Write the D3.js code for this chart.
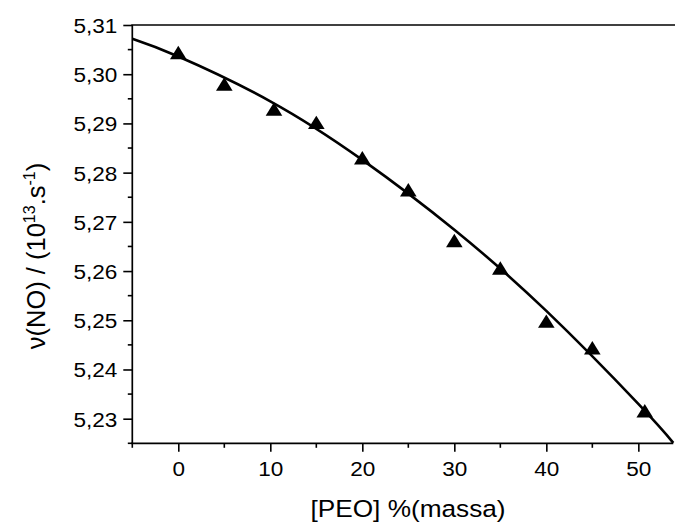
<!DOCTYPE html>
<html>
<head>
<meta charset="utf-8">
<script src="https://cdn.jsdelivr.net/npm/d3@7"></script>
<style>
  html, body { margin: 0; padding: 0; background: #fff; }
  svg { display: block; }
  text { font-family: "Liberation Sans", Arial, sans-serif; fill: #000; }
</style>
</head>
<body>
<svg id="chart" width="675" height="522"></svg>
<script>
// ---- data ----
const peo = [0, 5, 10.4, 15, 20, 25, 30, 35, 40, 45, 50.7];
const nu  = [5.3044, 5.2980, 5.2929, 5.2902, 5.2830, 5.2765, 5.2662, 5.2606, 5.2498, 5.2444, 5.2316];
// fitted curve, sampled along the drawn line
const fitX = [-5, 0, 10, 20, 30, 40, 50, 53.8];
const fitY = [5.3072, 5.3036, 5.2945, 5.2826, 5.2684, 5.2519, 5.2330, 5.2251];
const xMajor = [0, 10, 20, 30, 40, 50];
const xMinor = [-5, 5, 15, 25, 35, 45];
const yMajor = [5.23, 5.24, 5.25, 5.26, 5.27, 5.28, 5.29, 5.30, 5.31];
const yMinor = [5.225, 5.235, 5.245, 5.255, 5.265, 5.275, 5.285, 5.295, 5.305];

const svg = d3.select("#chart");
const L = 132.3, R = 673.3, T = 25, B = 443.3;

const x = d3.scaleLinear().domain([-5, 53.8]).range([L, R]);
const y = d3.scaleLinear().domain([5.225, 5.31]).range([B, T]);

const fmt = v => d3.format(".2f")(v).replace(".", ",");

// y axis
const yAx = svg.append("g").attr("transform", `translate(${L},0)`)
  .call(d3.axisLeft(y).tickValues(yMajor).tickFormat(fmt).tickSize(9).tickPadding(6).tickSizeOuter(0));
yAx.select(".domain").remove();
yAx.selectAll(".tick line").attr("stroke", "#000").attr("stroke-width", 1.6);
yAx.selectAll(".tick text").attr("font-size", 20.5).attr("dy", "0.36em").attr("x", 0)
  .attr("transform", "translate(-15,0) scale(1.1,1)");
svg.append("g").selectAll("line").data(yMinor).join("line")
  .attr("x1", L - 4.5).attr("x2", L).attr("y1", d => y(d)).attr("y2", d => y(d))
  .attr("stroke", "#000").attr("stroke-width", 1.6);

// x axis
const xAx = svg.append("g").attr("transform", `translate(0,${B})`)
  .call(d3.axisBottom(x).tickValues(xMajor).tickFormat(d3.format("d")).tickSize(8.5).tickPadding(4).tickSizeOuter(0));
xAx.select(".domain").remove();
xAx.selectAll(".tick line").attr("stroke", "#000").attr("stroke-width", 1.6);
xAx.selectAll(".tick text").attr("font-size", 20.5).attr("dy", 0).attr("y", 0)
  .attr("transform", "translate(0,33) scale(1.1,1)");
svg.append("g").selectAll("line").data(xMinor).join("line")
  .attr("x1", d => x(d)).attr("x2", d => x(d)).attr("y1", B).attr("y2", B + 4.5)
  .attr("stroke", "#000").attr("stroke-width", 1.6);

// frame lines: left, bottom, top
svg.append("line").attr("x1", L).attr("x2", L).attr("y1", T).attr("y2", B)
  .attr("stroke", "#000").attr("stroke-width", 1.7);
svg.append("line").attr("x1", L - 1).attr("x2", R).attr("y1", B).attr("y2", B)
  .attr("stroke", "#000").attr("stroke-width", 1.7);
svg.append("line").attr("x1", L - 1).attr("x2", 675).attr("y1", T).attr("y2", T)
  .attr("stroke", "#000").attr("stroke-width", 1.7);

// fit curve
const line = d3.line().x(d => x(d[0])).y(d => y(d[1])).curve(d3.curveNatural);
svg.append("path").datum(d3.zip(fitX, fitY)).attr("d", line)
  .attr("fill", "none").attr("stroke", "#000").attr("stroke-width", 2.6);

// triangles
svg.append("g").selectAll("path").data(d3.zip(peo, nu)).join("path")
  .attr("d", d => {
    const cx = x(d[0]), cy = y(d[1]);
    const p = d3.path();
    p.moveTo(cx, cy - 6.8); p.lineTo(cx + 8.3, cy + 6.6); p.lineTo(cx - 8.3, cy + 6.6); p.closePath();
    return p.toString();
  })
  .attr("fill", "#000");

// axis titles
svg.append("text").attr("transform", "translate(408,517) scale(1.07,1)").attr("text-anchor", "middle")
  .attr("font-size", 24.5).text("[PEO] %(massa)");

const yt = svg.append("text").attr("transform", "translate(45,256) rotate(-90)")
  .attr("text-anchor", "middle").attr("font-size", 25.5);
yt.append("tspan").text("ν(NO) / (10");
yt.append("tspan").attr("font-size", 16).attr("dy", -10).text("13");
yt.append("tspan").attr("dy", 10).text(".s");
yt.append("tspan").attr("font-size", 16).attr("dy", -10).text("-1");
yt.append("tspan").attr("dy", 10).text(")");
</script>
</body>
</html>
